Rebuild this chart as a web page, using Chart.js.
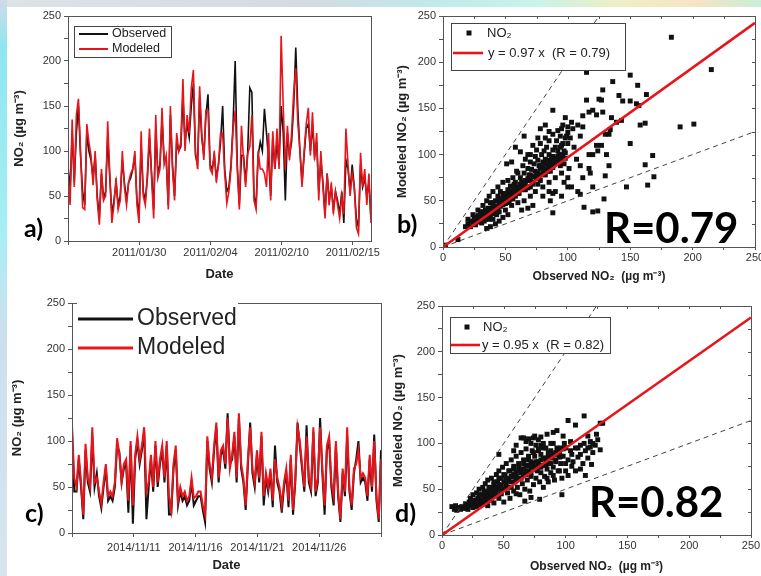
<!DOCTYPE html>
<html>
<head>
<meta charset="utf-8">
<script src="https://cdn.jsdelivr.net/npm/chart.js@4.4.1/dist/chart.umd.min.js"></script>
<style>
  body { margin: 0; width: 761px; height: 576px; position: relative; overflow: hidden; background: #fff; }
  #topband { position: absolute; left: 0; top: 0; width: 761px; height: 7px;
    background: linear-gradient(90deg, #dde2e7 0%, #d5dbe1 40%, #c0e8ea 55%, #c8f3ea 70%, #efefc4 82%, #f5e3c6 92%, #c9efd9 100%); }
  #leftband { position: absolute; left: 0; top: 0; width: 7px; height: 576px;
    background: linear-gradient(180deg, #cfdbe6 0%, #8fe6f0 8%, #a6eef5 40%, #bce6f2 50%, #cbe0ec 58%, #d8e4ee 100%); }
  canvas { position: absolute; left: 0; top: 0; }
  .lbl { position: absolute; font-family: Lato, "Open Sans", sans-serif; font-weight: bold; color: #000; line-height: 1; white-space: nowrap; }
</style>
</head>
<body>
<div id="topband"></div>
<div id="leftband"></div>
<canvas id="chartA" width="761" height="576"></canvas>
<canvas id="chartB" width="761" height="576"></canvas>
<canvas id="chartC" width="761" height="576"></canvas>
<canvas id="chartD" width="761" height="576"></canvas>
<div class="lbl" style="left:24px;top:215px;font-size:25px">a)</div>
<div class="lbl" style="left:397px;top:211px;font-size:25px">b)</div>
<div class="lbl" style="left:25px;top:500px;font-size:25px">c)</div>
<div class="lbl" style="left:395px;top:500px;font-size:25px">d)</div>
<div class="lbl" style="left:604px;top:206px;font-size:42px">R=0.79</div>
<div class="lbl" style="left:589px;top:480px;font-size:42px">R=0.82</div>
<script>
const W = 761, H = 576

// a) hourly NO2, Jan/Feb 2011
const modA = [
  75, 40, 135, 60, 140, 158, 100, 37, 35, 130,
  110, 95, 62, 100, 45, 18, 80, 45, 50, 133,
  75, 20, 40, 70, 35, 45, 100, 60, 40, 65,
  75, 80, 100, 40, 20, 122, 50, 40, 75, 125,
  70, 25, 140, 70, 80, 148, 85, 95, 35, 150,
  80, 45, 120, 100, 110, 180, 100, 140, 120, 170,
  190, 100, 80, 172, 120, 90, 145, 145, 80, 75,
  100, 65, 85, 120, 120, 75, 42, 55, 80, 125,
  145, 80, 35, 128, 90, 60, 97, 105, 140, 45,
  35, 100, 80, 80, 75, 60, 120, 45, 122, 80,
  125, 80, 228, 150, 80, 128, 90, 120, 165, 192,
  130, 100, 60, 100, 130, 148, 95, 143, 90, 120,
  45, 100, 60, 25, 75, 40, 65, 30, 55, 40,
  25, 50, 30, 125, 85, 50, 75, 60, 15, 8,
  98, 60, 80, 40, 75, 20
]
const obsA = [
  85, 55, 120, 65, 120, 150, 95, 55, 40, 120,
  100, 90, 70, 95, 50, 25, 75, 48, 55, 115,
  70, 30, 45, 65, 40, 50, 90, 65, 45, 65,
  70, 80, 95, 45, 30, 105, 55, 45, 70, 115,
  75, 35, 125, 75, 85, 135, 90, 90, 40, 140,
  85, 50, 110, 100, 105, 160, 110, 130, 115, 150,
  175, 95, 85, 160, 115, 95, 140, 163, 85, 80,
  95, 70, 85, 110, 150, 80, 55, 60, 85, 130,
  200, 85, 40, 95, 95, 65, 100, 170, 165, 50,
  40, 95, 110, 100, 147, 120, 90, 50, 115, 80,
  110, 85, 150, 120, 45, 120, 95, 110, 150, 215,
  145, 100, 65, 95, 125, 130, 100, 128, 95, 110,
  55, 90, 65, 30, 75, 45, 60, 35, 55, 45,
  30, 55, 20, 90, 80, 55, 85, 60, 25, 15,
  85, 60, 70, 50, 65, 25
]
const spanA = 23.4   // days on the a) axis
const tickDaysA = [0, 5.5, 11, 16.5, 22]
const tickLabelsA = ['', '2011/01/30', '2011/02/04', '2011/02/10', '2011/02/15']

// c) hourly NO2, Nov 2014
const modC = [
  117, 60, 50, 85, 55, 20, 97, 60, 50, 115,
  55, 60, 45, 32, 55, 75, 40, 45, 40, 55,
  103, 85, 55, 75, 80, 35, 100, 30, 85, 105,
  80, 95, 115, 45, 55, 85, 50, 100, 55, 80,
  95, 60, 100, 40, 25, 75, 95, 35, 50, 40,
  45, 35, 40, 60, 38, 40, 45, 45, 30, 20,
  105, 75, 60, 95, 120, 60, 90, 95, 75, 125,
  70, 85, 110, 60, 130, 75, 60, 30, 80, 115,
  70, 55, 90, 60, 110, 40, 65, 50, 70, 35,
  80, 60, 50, 30, 55, 70, 35, 85, 25, 60,
  115, 100, 75, 50, 105, 60, 50, 115, 45, 60,
  115, 70, 30, 95, 105, 55, 40, 100, 45, 15,
  70, 45, 115, 50, 30, 70, 75, 90, 60, 65,
  60, 40, 85, 50, 100, 40, 15, 80
]
const obsC = [
  110, 45, 45, 80, 50, 15, 90, 55, 45, 105,
  50, 65, 40, 27, 50, 70, 35, 40, 35, 50,
  95, 88, 55, 70, 75, 22, 95, 10, 80, 100,
  75, 90, 110, 15, 50, 80, 45, 95, 50, 75,
  90, 55, 95, 20, 20, 70, 90, 30, 45, 35,
  40, 30, 35, 55, 30, 35, 40, 40, 25, 12,
  100, 70, 55, 90, 115, 55, 85, 90, 70, 130,
  75, 80, 105, 55, 125, 70, 55, 25, 75, 120,
  65, 50, 85, 55, 105, 30, 60, 45, 65, 28,
  95, 55, 45, 22, 50, 65, 28, 80, 20, 55,
  120, 95, 70, 45, 117, 55, 45, 110, 40, 55,
  125, 65, 20, 90, 100, 50, 30, 95, 40, 12,
  65, 40, 105, 45, 25, 65, 80, 100, 55, 60,
  55, 35, 80, 45, 107, 35, 12, 90
]
const spanC = 25
const tickDaysC = [0, 5, 10, 15, 20, 25]
const tickLabelsC = ['', '2014/11/11', '2014/11/16', '2014/11/21', '2014/11/26', '']

// b) observed vs modeled, 2011  [observed, modeled]
const scatterB = [
  [183, 227], [215, 192], [190, 130], [201, 133], [168, 99], [169, 76], [164, 67], [162, 89], [150, 112], [147, 65],
  [155, 155], [156, 175], [163, 165], [158, 132], [150, 186], [162, 134], [115, 189], [136, 179], [128, 170], [141, 164],
  [125, 160], [115, 159], [127, 159], [144, 158], [150, 158], [157, 153], [120, 148], [117, 146], [128, 146], [123, 143],
  [112, 142], [135, 140], [139, 135], [143, 137], [134, 127], [133, 122], [130, 122], [127, 110], [124, 104], [120, 100],
  [131, 100], [133, 88], [130, 77], [117, 85], [118, 80], [120, 65], [108, 60], [110, 57], [113, 43], [120, 38],
  [124, 39], [129, 52], [88, 37], [123, 110], [110, 120], [112, 130], [108, 132], [103, 135], [95, 128], [100, 130],
  [98, 140], [88, 148], [76, 118], [78, 128], [82, 132], [85, 125], [107, 95], [105, 108], [100, 75], [100, 65],
  [97, 90], [103, 65], [112, 75], [110, 88], [117, 100], [90, 60], [95, 55], [85, 60], [80, 55],
  [2, 2], [12, 8], [18, 22], [20, 25], [20, 30], [22, 28], [24, 35], [25, 30], [26, 24], [27, 32],
  [28, 40], [28, 28], [30, 38], [30, 33], [31, 26], [32, 35], [32, 45], [33, 28], [34, 40], [35, 20],
  [35, 50], [35, 32], [36, 38], [37, 30], [37, 55], [38, 22], [38, 48], [39, 42], [40, 30], [40, 45],
  [40, 60], [41, 36], [42, 50], [42, 25], [43, 35], [44, 55], [44, 65], [45, 38], [45, 28], [46, 60],
  [46, 48], [47, 52], [48, 32], [48, 70], [48, 50], [49, 58], [50, 40], [50, 55], [51, 90], [52, 62],
  [52, 35], [52, 72], [53, 48], [54, 66], [55, 45], [55, 60], [55, 92], [56, 75], [56, 52], [57, 68],
  [58, 55], [58, 70], [59, 82], [60, 48], [60, 65], [60, 80], [61, 58], [62, 75], [62, 103], [63, 40],
  [63, 70], [64, 88], [65, 50], [65, 80], [65, 120], [66, 62], [66, 95], [67, 72], [68, 42], [68, 85],
  [68, 100], [69, 78], [70, 55], [70, 65], [70, 92], [70, 100], [71, 84], [72, 45], [72, 110], [72, 70],
  [73, 90], [74, 98], [74, 60], [75, 80], [75, 105], [76, 68], [76, 94], [77, 88], [78, 72], [78, 85],
  [78, 112], [79, 100], [80, 92], [80, 65], [81, 104], [82, 78], [82, 95], [82, 118], [83, 108], [84, 88],
  [85, 70], [85, 100], [85, 115], [86, 82], [86, 50], [87, 96], [88, 58], [88, 105], [88, 122], [89, 90],
  [90, 75], [90, 108], [91, 115], [92, 98], [92, 126], [93, 100], [94, 88], [94, 120], [95, 80], [95, 110],
  [96, 132], [97, 104], [98, 96], [99, 120], [100, 112], [102, 118], [104, 128], [101, 85], [97, 70], [58, 108],
  [22, 22], [24, 27], [26, 30], [28, 34], [30, 30], [32, 38], [34, 36], [36, 42], [38, 40], [40, 48],
  [42, 44], [44, 50], [46, 52], [48, 56], [50, 52], [52, 58], [54, 56], [56, 62], [58, 64], [60, 60],
  [62, 68], [64, 66], [66, 72], [68, 74], [70, 78], [72, 76], [74, 82], [76, 80], [78, 88], [80, 86],
  [82, 90], [84, 94], [86, 92], [88, 98], [90, 96], [92, 104], [94, 108], [96, 112], [98, 118], [100, 124],
  [36, 34], [40, 40], [44, 42], [48, 46], [52, 50], [56, 56], [60, 58], [64, 62], [68, 64], [72, 68],
  [76, 74], [80, 80], [84, 82], [88, 86], [92, 92], [96, 100], [30, 27], [34, 30], [38, 35], [42, 38],
  [46, 44], [50, 47], [54, 52], [58, 60], [62, 64], [66, 68], [70, 72], [74, 76], [78, 78], [82, 84],
  [86, 88], [90, 92], [94, 96], [98, 102], [45, 45], [55, 55], [65, 65], [75, 75], [85, 85], [95, 95]
]
const slopeB = 0.97, rB = 0.79

// d) observed vs modeled, 2014  [observed, modeled]
const scatterD = [
  [130, 122], [115, 130], [102, 125], [128, 122], [125, 110], [128, 93], [121, 77], [116, 65], [97, 44], [79, 39],
  [72, 41], [67, 37], [60, 45], [93, 114], [90, 112], [98, 108], [85, 110], [80, 107], [75, 108], [70, 105],
  [72, 100], [68, 102], [115, 100], [120, 102], [112, 98], [118, 95], [108, 95], [100, 95], [105, 88], [110, 85],
  [95, 85], [100, 78], [105, 75], [112, 72], [95, 70], [90, 65], [85, 62], [102, 65], [46, 88], [64, 106],
  [66, 106], [74, 106], [78, 104], [80, 98], [78, 92], [60, 98], [58, 92], [108, 120], [122, 100], [126, 104],
  [118, 108], [104, 102], [90, 100], [88, 92], [92, 88], [84, 95], [96, 95],
  [8, 31], [10, 28], [11, 32], [12, 27], [14, 30], [15, 28], [16, 31], [18, 29], [19, 34], [20, 32],
  [21, 28], [22, 36], [23, 40], [24, 33], [25, 44], [25, 30], [26, 38], [27, 35], [28, 46], [28, 31],
  [29, 40], [30, 36], [30, 50], [31, 33], [32, 44], [33, 52], [33, 38], [34, 34], [35, 47], [35, 56],
  [36, 40], [37, 32], [37, 60], [38, 45], [39, 52], [40, 38], [40, 62], [41, 48], [42, 55], [42, 35],
  [43, 44], [44, 66], [44, 50], [45, 58], [46, 40], [46, 70], [47, 53], [48, 62], [48, 45], [49, 74],
  [50, 50], [50, 36], [51, 65], [52, 56], [52, 78], [53, 46], [54, 60], [55, 70], [55, 40], [56, 82],
  [56, 52], [57, 64], [58, 48], [58, 75], [59, 58], [60, 86], [60, 68], [61, 52], [62, 62], [62, 78],
  [63, 44], [64, 72], [64, 90], [65, 56], [66, 66], [66, 82], [67, 50], [68, 76], [68, 94], [69, 60],
  [70, 70], [70, 86], [71, 48], [72, 64], [72, 80], [73, 92], [74, 55], [74, 74], [75, 86], [76, 62],
  [76, 98], [77, 70], [78, 80], [79, 58], [80, 88], [80, 68], [81, 76], [82, 95], [82, 52], [83, 64],
  [84, 84], [85, 72], [86, 90], [86, 58], [87, 78], [88, 100], [88, 68], [89, 86], [90, 74], [91, 60],
  [92, 82], [93, 95], [94, 70], [95, 90], [96, 78], [97, 62], [98, 86], [99, 100], [100, 70], [102, 82],
  [104, 92], [106, 80], [108, 70], [110, 95], [112, 88], [114, 78], [116, 92], [118, 84], [120, 96], [122, 90],
  [124, 98],
  [20, 30], [22, 32], [24, 35], [26, 34], [28, 38], [30, 40], [32, 38], [34, 42], [36, 44], [38, 48],
  [40, 46], [42, 50], [44, 52], [46, 55], [48, 54], [50, 58], [52, 60], [54, 62], [56, 64], [58, 66],
  [60, 64], [62, 70], [64, 68], [66, 72], [68, 70], [70, 76], [72, 74], [74, 78], [76, 80], [78, 76],
  [80, 82], [82, 84], [84, 80], [86, 86], [88, 84], [90, 88], [92, 90], [94, 92], [96, 86], [98, 94],
  [30, 44], [34, 48], [38, 52], [42, 58], [46, 62], [50, 66], [54, 70], [58, 72], [62, 74], [66, 78],
  [70, 82], [74, 90], [78, 94], [82, 100], [36, 36], [40, 42], [44, 46], [48, 50], [52, 52], [56, 58],
  [60, 60], [64, 62], [68, 66], [72, 68], [76, 72], [80, 74], [84, 76], [88, 78], [92, 80]
]
const slopeD = 0.95, rD = 0.82

const axisMax = 250

const RED = '#e8141b'
const BLACK = '#111'
const AXIS = '#555'
const TICK = '#333'
const TITLE = '#222'
const FAMILY = "'Liberation Sans', Arial, sans-serif"
const tickFont = { family: FAMILY, size: 11 }
const titleFont = (size) => ({ family: FAMILY, size: size, weight: 'bold' })

const series = (values, span) => values.map((v, i) => ({ x: i * span / (values.length - 1), y: v }))

// layout padding that puts the plot area where the figure has it
const padFor = (area, yW, xH) => ({ left: area.l - yW, top: area.t, right: W - area.r, bottom: H - area.b - xH })

// box around the plot, optional inner ticks on top/right
const framePlugin = {
    id: 'frame',
    afterDatasetsDraw(chart, args, opts) {
        const { ctx, chartArea: a, scales } = chart
        ctx.save()
        ctx.strokeStyle = AXIS
        ctx.lineWidth = 1
        ctx.strokeRect(Math.round(a.left) + 0.5, Math.round(a.top) + 0.5, Math.round(a.right - a.left), Math.round(a.bottom - a.top))
        if (opts.mirror) {
            ctx.beginPath()
            scales.x.ticks.forEach(t => {
                const px = Math.round(scales.x.getPixelForValue(t.value)) + 0.5
                ctx.moveTo(px, a.top)
                ctx.lineTo(px, a.top + 3)
            })
            scales.y.ticks.forEach(t => {
                const py = Math.round(scales.y.getPixelForValue(t.value)) + 0.5
                ctx.moveTo(a.right, py)
                ctx.lineTo(a.right - 3, py)
            })
            ctx.stroke()
        }
        ctx.restore()
    }
}

// legend box drawn inside the plot like the original figure
const boxLegend = {
    id: 'boxLegend',
    afterDraw(chart, args, o) {
        if (!o.rows) return
        const ctx = chart.ctx
        ctx.save()
        ctx.fillStyle = '#fff'
        ctx.fillRect(o.x, o.y, o.w, o.h)
        if (o.border) {
            ctx.strokeStyle = '#444'
            ctx.lineWidth = 1
            ctx.strokeRect(o.x + 0.5, o.y + 0.5, o.w, o.h)
        }
        ctx.font = o.font
        ctx.textBaseline = 'middle'
        o.rows.forEach(r => {
            const ds = chart.data.datasets[r.ds]
            if (r.marker) {
                ctx.fillStyle = ds.backgroundColor
                ctx.fillRect(r.mx - 2.5, r.y - 2.5, 5, 5)
            } else {
                ctx.strokeStyle = ds.borderColor
                ctx.lineWidth = r.lw
                ctx.beginPath()
                ctx.moveTo(r.x0, r.y)
                ctx.lineTo(r.x1, r.y)
                ctx.stroke()
            }
            ctx.fillStyle = '#222'
            ctx.fillText(ds.label, r.tx, r.y)
        })
        ctx.restore()
    }
}

const yAxis = (width, title, titlePad) => ({
    min: 0,
    max: axisMax,
    afterFit: s => { s.width = width; s.paddingTop = 0; s.paddingBottom = 0 },
    grid: { drawOnChartArea: false, tickLength: 4, tickColor: AXIS },
    border: { display: false },
    ticks: { stepSize: 25, padding: 3, color: TICK, font: tickFont, callback: v => (v % 50 === 0 ? v : '') },
    title: { display: true, text: title, font: titleFont(13), color: TITLE, padding: { top: titlePad, bottom: 0 } }
})

function timeChart(id, p) {
    return new Chart(document.getElementById(id), {
        type: 'line',
        data: {
            datasets: [
                { label: 'Modeled', data: series(p.mod, p.span), borderColor: RED, borderWidth: p.lw, pointRadius: 0, order: 0 },
                { label: 'Observed', data: series(p.obs, p.span), borderColor: BLACK, borderWidth: p.lw, pointRadius: 0, order: 1 },
            ],
        },
        options: {
            responsive: false,
            animation: false,
            events: [],
            layout: { padding: padFor(p.area, p.yW, p.xH) },
            plugins: { legend: { display: false }, tooltip: { enabled: false }, frame: {}, boxLegend: p.legend },
            scales: {
                x: {
                    type: 'linear',
                    min: 0,
                    max: p.span,
                    afterBuildTicks: s => { s.ticks = p.tickDays.map(v => ({ value: v })) },
                    afterFit: s => { s.height = p.xH; s.paddingLeft = 0; s.paddingRight = 0 },
                    grid: { drawOnChartArea: false, tickLength: 4, tickColor: AXIS },
                    border: { display: false },
                    ticks: { autoSkip: false, maxRotation: 0, padding: p.xTickPad, color: TICK, font: tickFont, callback: (v, i) => p.tickLabels[i] },
                    title: { display: true, text: 'Date', font: titleFont(13), color: TITLE, padding: { top: 0, bottom: p.xTitlePad } },
                },
                y: yAxis(p.yW, 'NO₂ (µg m⁻³)', p.yTitlePad),
            },
        },
        plugins: [framePlugin, boxLegend],
    })
}

function scatterChart(id, p) {
    return new Chart(document.getElementById(id), {
        type: 'scatter',
        data: {
            datasets: [
                { label: 'NO₂', data: p.points.map(([x, y]) => ({ x, y })), pointStyle: 'rect', pointRadius: 3.5, backgroundColor: BLACK, borderWidth: 0, order: 2 },
                { label: `y = ${p.slope} x  (R = ${p.r})`, data: [{ x: 0, y: 0 }, { x: axisMax, y: p.slope * axisMax }], showLine: true, borderColor: RED, borderWidth: 2.6, pointRadius: 0, order: 0 },
                { label: '2:1', data: [{ x: 0, y: 0 }, { x: axisMax / 2, y: axisMax }], showLine: true, borderColor: '#444', borderDash: [5, 4], borderWidth: 1, pointRadius: 0, order: 1 },
                { label: '1:2', data: [{ x: 0, y: 0 }, { x: axisMax, y: axisMax / 2 }], showLine: true, borderColor: '#444', borderDash: [5, 4], borderWidth: 1, pointRadius: 0, order: 1 },
            ],
        },
        options: {
            responsive: false,
            animation: false,
            events: [],
            layout: { padding: padFor(p.area, p.yW, p.xH) },
            plugins: { legend: { display: false }, tooltip: { enabled: false }, frame: { mirror: true }, boxLegend: p.legend },
            scales: {
                x: {
                    min: 0,
                    max: axisMax,
                    afterFit: s => { s.height = p.xH; s.paddingLeft = 0; s.paddingRight = 0 },
                    grid: { drawOnChartArea: false, tickLength: 3, tickColor: AXIS },
                    border: { display: false },
                    ticks: { stepSize: 25, autoSkip: false, maxRotation: 0, padding: 1, color: TICK, font: tickFont, callback: v => (v % 50 === 0 ? v : '') },
                    title: { display: true, text: 'Observed NO₂  (µg m⁻³)', font: titleFont(12), color: TITLE, padding: { top: 0, bottom: p.xTitlePad } },
                },
                y: yAxis(p.yW, 'Modeled NO₂ (µg m⁻³)', p.yTitlePad),
            },
        },
        plugins: [framePlugin, boxLegend],
    })
}

const legendFont = (size) => `${size}px ${FAMILY}`

timeChart('chartA', {
    mod: modA, obs: obsA, span: spanA, tickDays: tickDaysA, tickLabels: tickLabelsA, lw: 1.6,
    area: { l: 68, r: 371, t: 16, b: 241 }, yW: 57, xH: 44, xTickPad: 1, xTitlePad: 3, yTitlePad: 1,
    legend: {
        x: 74, y: 26, w: 97, h: 31, border: true, font: legendFont(12.5),
        rows: [
            { ds: 1, y: 34, x0: 79, x1: 108, tx: 112, lw: 2 },
            { ds: 0, y: 49, x0: 79, x1: 108, tx: 112, lw: 2 },
        ],
    },
})

scatterChart('chartB', {
    points: scatterB, slope: slopeB, r: rB,
    area: { l: 443, r: 755, t: 16, b: 247 }, yW: 49, xH: 40, xTitlePad: 3, yTitlePad: 1,
    legend: {
        x: 451, y: 23, w: 174, h: 47, border: true, font: legendFont(13),
        rows: [
            { ds: 0, y: 33, marker: true, mx: 469, tx: 487 },
            { ds: 1, y: 53, x0: 453, x1: 483, tx: 488, lw: 2.6 },
        ],
    },
})

timeChart('chartC', {
    mod: modC, obs: obsC, span: spanC, tickDays: tickDaysC, tickLabels: tickLabelsC, lw: 2,
    area: { l: 72, r: 381, t: 303, b: 533 }, yW: 63, xH: 40, xTickPad: 4, xTitlePad: 0, yTitlePad: 1,
    legend: {
        x: 77, y: 295, w: 161, h: 68, border: false, font: legendFont(23),
        rows: [
            { ds: 1, y: 319, x0: 78, x1: 133, tx: 137, lw: 3 },
            { ds: 0, y: 348, x0: 78, x1: 133, tx: 137, lw: 3 },
        ],
    },
})

scatterChart('chartD', {
    points: scatterD, slope: slopeD, r: rD,
    area: { l: 442, r: 751, t: 306, b: 535 }, yW: 52, xH: 40, xTitlePad: 1, yTitlePad: 1,
    legend: {
        x: 450, y: 317, w: 160, h: 36, border: true, font: legendFont(13),
        rows: [
            { ds: 0, y: 327, marker: true, mx: 467, tx: 483 },
            { ds: 1, y: 345, x0: 451, x1: 480, tx: 482, lw: 2.6 },
        ],
    },
})
</script>
</body>
</html>
